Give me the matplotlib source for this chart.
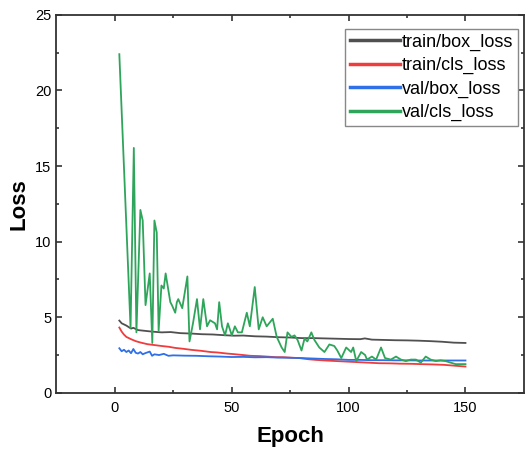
import matplotlib.pyplot as plt

plt.rcParams['font.family'] = ['Liberation Sans', 'DejaVu Sans']

# train/box_loss
box_ep = [2, 3, 5, 7, 8, 10, 13, 16, 20, 24, 28, 33, 37, 42, 46, 51, 55, 60, 65, 70,
          75, 80, 85, 90, 95, 100, 105, 107, 110, 115, 120, 125, 130, 135, 140, 145, 150]
box_loss = [4.78, 4.6, 4.45, 4.25, 4.3, 4.15, 4.1, 4.05, 4.0, 4.02, 3.95, 3.92, 3.88, 3.86,
            3.82, 3.78, 3.79, 3.74, 3.72, 3.68, 3.66, 3.62, 3.62, 3.6, 3.58, 3.56, 3.55,
            3.6, 3.52, 3.5, 3.48, 3.47, 3.45, 3.42, 3.38, 3.32, 3.3]

# train/cls_loss
cls_ep = [2, 3, 4, 5, 7, 9, 11, 14, 17, 20, 23, 26, 29, 33, 37, 41, 44, 48, 51, 55, 58,
          62, 65, 69, 72, 76, 79, 83, 86, 90, 95, 99, 104, 108, 113, 118, 122, 127, 131,
          136, 141, 145, 150]
cls_loss = [4.32, 4.05, 3.85, 3.7, 3.55, 3.42, 3.33, 3.22, 3.16, 3.1, 3.05, 2.97, 2.92,
            2.84, 2.78, 2.7, 2.67, 2.6, 2.56, 2.5, 2.45, 2.43, 2.4, 2.36, 2.36, 2.32, 2.3,
            2.22, 2.18, 2.14, 2.1, 2.07, 2.03, 2.0, 1.96, 1.95, 1.93, 1.92, 1.9, 1.88,
            1.85, 1.8, 1.74]

# val/box_loss
vbox_ep = [2, 3, 4, 5, 6, 7, 8, 9, 10, 11, 12, 13, 15, 16, 17, 19, 21, 23, 25, 30, 35,
           40, 45, 50, 55, 60, 65, 70, 75, 80, 85, 90, 95, 100, 105, 110, 115, 120, 125,
           130, 135, 140, 145, 150]
vbox_loss = [2.95, 2.75, 2.85, 2.7, 2.8, 2.62, 2.9, 2.65, 2.6, 2.7, 2.55, 2.62, 2.73,
             2.45, 2.55, 2.5, 2.58, 2.45, 2.48, 2.46, 2.45, 2.42, 2.4, 2.37, 2.38, 2.35,
             2.36, 2.33, 2.32, 2.3, 2.27, 2.24, 2.22, 2.18, 2.18, 2.16, 2.16, 2.15, 2.15,
             2.14, 2.14, 2.14, 2.14, 2.14]

# val/cls_loss
vcls_ep = [2, 6.8, 8.2, 9.3, 11, 12, 13.2, 15, 16.1, 17, 18, 18.8, 20, 21, 21.8, 23.8,
           24.5, 25.9, 26.6, 27.2, 28.9, 31.1, 32, 33.5, 35.2, 36.5, 37.9, 39.5, 40.8,
           42.9, 43.8, 44.7, 45.9, 47.2, 48.4, 50.1, 51.4, 52.7, 54.4, 56.5, 57.8, 59.9,
           61.6, 63.3, 65, 67.6, 69.3, 71.4, 72.7, 73.9, 75.6, 76.9, 78.2, 79.9, 81.2,
           82.4, 84.1, 85.4, 87.5, 89.7, 91.8, 93.9, 95.2, 96.9, 99, 101.1, 102, 103.3,
           105.4, 107.1, 107.9, 110, 111.8, 113.9, 115.6, 118.1, 120.3, 122.4, 124.5,
           126.6, 128.8, 130.9, 133, 135.1, 137.3, 139.4, 141.5, 143.6, 145.8, 147.9, 150]
vcls_loss = [22.4, 4.3, 16.2, 4.0, 12.1, 11.4, 5.8, 7.9, 3.3, 11.4, 10.6, 4.1, 7.1, 6.9,
             7.9, 6.0, 5.8, 5.3, 6.0, 6.2, 5.6, 7.7, 3.4, 4.6, 6.2, 4.2, 6.2, 4.4, 4.8,
             4.6, 4.2, 6.0, 4.4, 3.8, 4.6, 3.8, 4.4, 4.0, 4.0, 5.3, 4.4, 7.0, 4.2, 5.0,
             4.4, 4.9, 3.7, 3.0, 2.7, 4.0, 3.7, 3.8, 3.5, 2.8, 3.6, 3.4, 4.0, 3.5, 3.0,
             2.7, 3.2, 3.1, 2.8, 2.3, 3.0, 2.7, 3.0, 2.1, 2.7, 2.5, 2.2, 2.4, 2.2, 3.0,
             2.3, 2.2, 2.4, 2.2, 2.1, 2.2, 2.2, 2.0, 2.4, 2.2, 2.1, 2.15, 2.1, 2.0, 1.9,
             1.9, 1.9]

fig = plt.figure(figsize=(5.25, 4.5), dpi=100)
ax = fig.add_axes([0.107, 0.127, 0.891, 0.84])

ax.plot(box_ep, box_loss, color='#505050', lw=1.3, label='train/box_loss')
ax.plot(cls_ep, cls_loss, color='#f03c3c', lw=1.3, label='train/cls_loss')
ax.plot(vbox_ep, vbox_loss, color='#2f6fe8', lw=1.3, label='val/box_loss')
ax.plot(vcls_ep, vcls_loss, color='#2ea55a', lw=1.3, label='val/cls_loss')

ax.set_xlim(-25, 175)
ax.set_ylim(0, 25)
ax.set_xticks([0, 50, 100, 150])
ax.set_xticks([25, 75, 125], minor=True)
ax.set_yticks([0, 5, 10, 15, 20, 25])
ax.set_yticks([2.5, 7.5, 12.5, 17.5, 22.5], minor=True)
ax.tick_params(which='both', direction='in', top=True, right=True, labelsize=10.5,
               color='#333333', width=1.2)
ax.tick_params(which='major', length=4)
ax.tick_params(which='minor', length=2.5)
ax.tick_params(axis='x', pad=6)
for s in ax.spines.values():
    s.set_color('#333333')
    s.set_linewidth(1.3)

ax.set_xlabel('Epoch', fontsize=16, fontweight='bold', labelpad=8)
ax.set_ylabel('Loss', fontsize=16, fontweight='bold')

leg = ax.legend(loc='upper right', fontsize=13, handlelength=2.8, handletextpad=0.1,
                labelspacing=0.35, borderpad=0.25, borderaxespad=0, fancybox=False,
                framealpha=1, bbox_to_anchor=(0.987, 0.963))
leg.get_frame().set_edgecolor('#888888')
for line in leg.get_lines():
    line.set_linewidth(2.5)

plt.savefig('out.png', dpi=100)
